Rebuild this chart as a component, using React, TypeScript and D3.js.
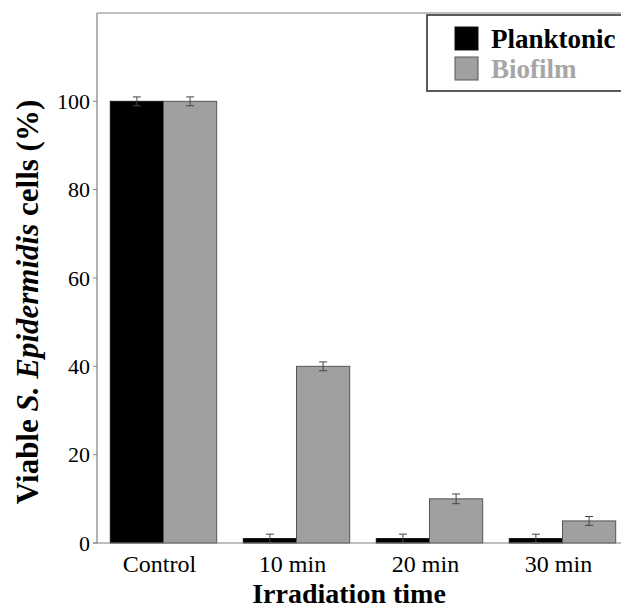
import React from "react";
import * as d3 from "d3";

const categories = ["Control", "10 min", "20 min", "30 min"];
const seriesNames = ["Planktonic", "Biofilm"];
const planktonic = [100, 1, 1, 1];
const planktonicErr = [1, 1, 1, 1];
const biofilm = [100, 40, 10, 5];
const biofilmErr = [1, 1, 1.1, 1];
const yTicks = [0, 20, 40, 60, 80, 100];

const W = 621;
const H = 610;
const left = 97;
const right = 629;
const top = 13;
const bottom = 543;

const fills = ["#000000", "#a0a0a0"];
const strokes = ["#111111", "#555555"];
const textColors = ["#000000", "#a6a6a6"];
const font = "Liberation Serif";

export default function App() {
  const x0 = d3.scaleBand<string>().domain(categories).range([left, right]).paddingInner(0.2).paddingOuter(0.1);
  const x1 = d3.scaleBand<string>().domain(seriesNames).range([0, x0.bandwidth()]).padding(0);
  const y = d3.scaleLinear().domain([0, 120]).range([bottom, top]);

  const series = [
    { name: seriesNames[0], values: planktonic, errs: planktonicErr },
    { name: seriesNames[1], values: biofilm, errs: biofilmErr },
  ];

  return (
    <svg width={W} height={H} style={{ position: "absolute", left: 0, top: 0, background: "#fff", fontFamily: font }}>
      <line x1={left} x2={W + 10} y1={top} y2={top} stroke="#808080" strokeWidth={1.2} />
      <line x1={left} x2={left} y1={top} y2={bottom} stroke="#808080" strokeWidth={1.2} />

      {series.map((s, si) =>
        categories.map((c, ci) => {
          const bx = (x0(c) ?? 0) + (x1(s.name) ?? 0);
          const bw = x1.bandwidth();
          const v = s.values[ci];
          const e = s.errs[ci];
          const cx = bx + bw / 2;
          return (
            <g key={s.name + c}>
              <rect x={bx} y={y(v)} width={bw} height={bottom - y(v)} fill={fills[si]} stroke={strokes[si]} strokeWidth={1} />
              <line x1={cx} x2={cx} y1={y(v + e)} y2={y(Math.max(0, v - e))} stroke="#444" strokeWidth={1} />
              <line x1={cx - 4} x2={cx + 4} y1={y(v + e)} y2={y(v + e)} stroke="#444" strokeWidth={1} />
              <line x1={cx - 4} x2={cx + 4} y1={y(Math.max(0, v - e))} y2={y(Math.max(0, v - e))} stroke="#444" strokeWidth={1} />
            </g>
          );
        })
      )}

      <line x1={left - 4} x2={W + 10} y1={bottom} y2={bottom} stroke="#808080" strokeWidth={1.2} />

      {yTicks.map((t) => (
        <g key={t}>
          <line x1={left - 4} x2={left} y1={y(t)} y2={y(t)} stroke="#808080" strokeWidth={1} />
          <text x={left - 7} y={y(t)} dy="0.35em" textAnchor="end" fontSize={22} fill="#000" fontFamily={font}>
            {t}
          </text>
        </g>
      ))}

      {categories.map((c) => (
        <text key={c} x={(x0(c) ?? 0) + x0.bandwidth() / 2 - 4} y={572} textAnchor="middle" fontSize={24} fill="#000" fontFamily={font}>
          {c}
        </text>
      ))}

      <text x={349} y={603} textAnchor="middle" fontSize={28} fontWeight="bold" fill="#000" fontFamily={font}>
        Irradiation time
      </text>
      <text transform={`translate(38,${302}) rotate(-90)`} textAnchor="middle" fontSize={31} fontWeight="bold" fill="#000" fontFamily={font}>
        Viable <tspan fontStyle="italic">S. Epidermidis</tspan> cells (%)
      </text>

      <rect x={427} y={15} width={220} height={76} fill="#fff" stroke="#333" strokeWidth={1.6} />
      {seriesNames.map((n, i) => (
        <g key={n}>
          <rect x={455} y={27 + i * 30} width={23} height={23} fill={fills[i]} stroke={strokes[i]} strokeWidth={1} />
          <text x={491} y={48 + i * 30} fontSize={27} fontWeight="bold" fill={textColors[i]} fontFamily={font}>
            {n}
          </text>
        </g>
      ))}
    </svg>
  );
}
